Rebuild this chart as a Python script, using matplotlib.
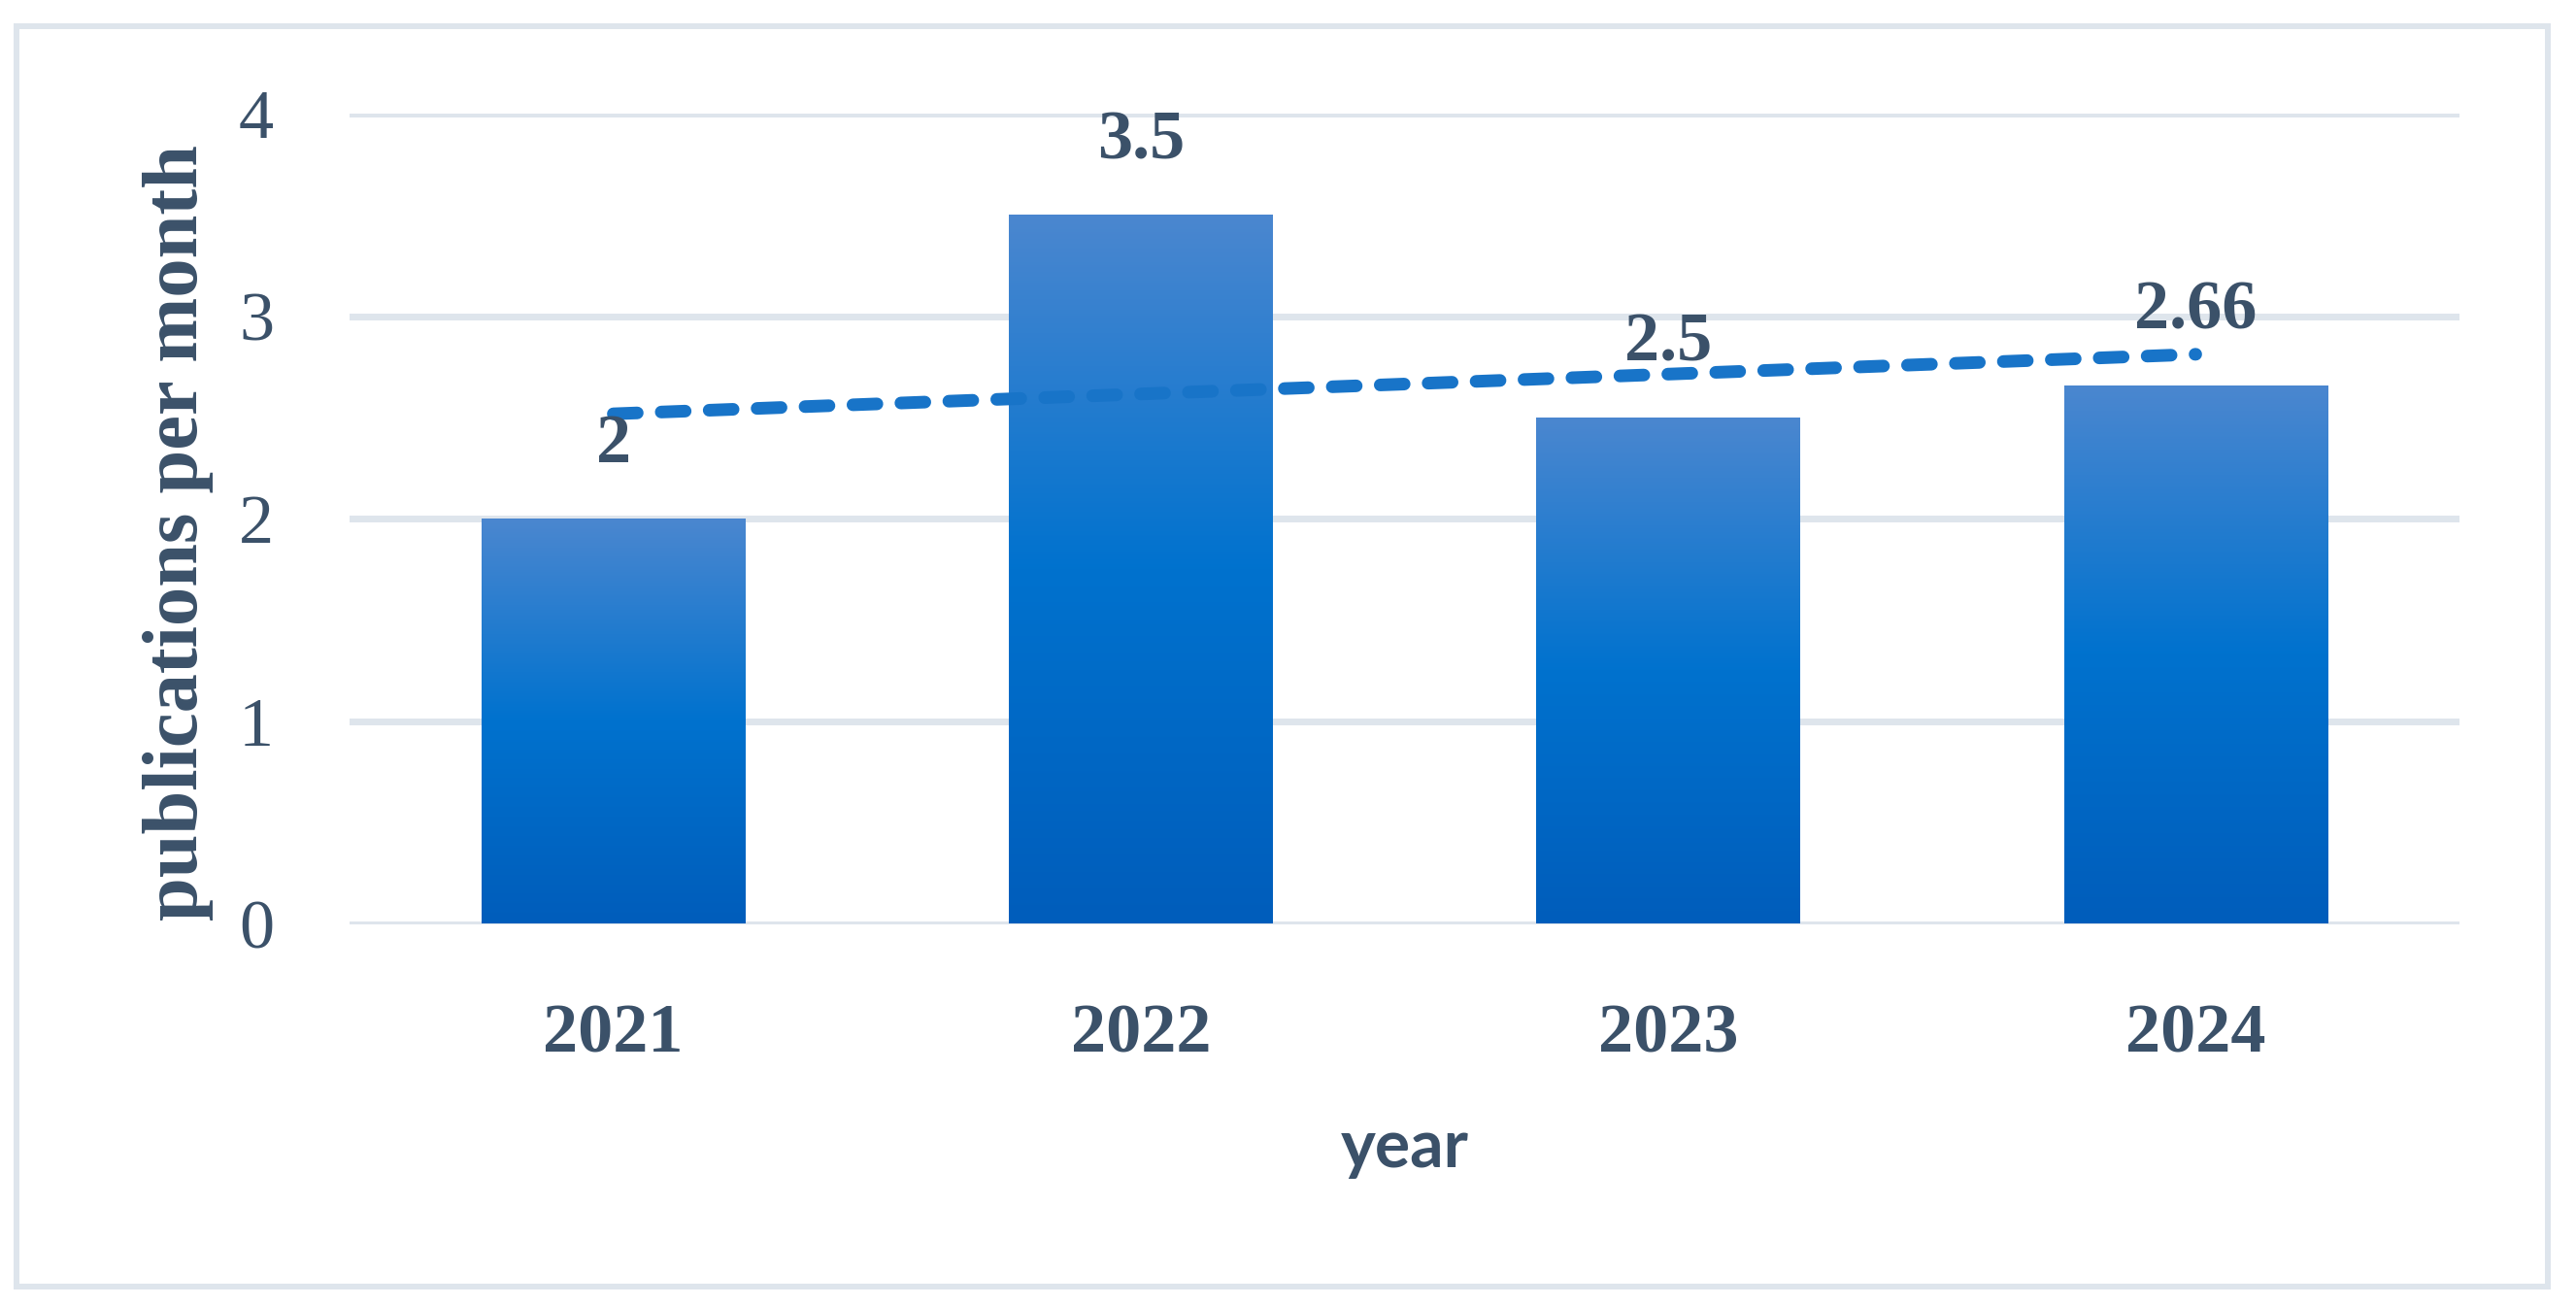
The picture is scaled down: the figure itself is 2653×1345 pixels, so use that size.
import numpy as np
import matplotlib
matplotlib.use("Agg")
import matplotlib.pyplot as plt
from matplotlib.colors import LinearSegmentedColormap
from matplotlib.patches import Rectangle

# ---- data ----
years = ["2021", "2022", "2023", "2024"]
values = [2, 3.5, 2.5, 2.66]
value_labels = ["2", "3.5", "2.5", "2.66"]
y_ticks = [0, 1, 2, 3, 4]

TEXT = "#3B5169"
GRID = "#DEE5EC"
SERIF = ["Liberation Serif", "DejaVu Serif"]
SANS = ["Lato", "Open Sans", "DejaVu Sans"]

W, H = 2653, 1345
DPI = 100
fig = plt.figure(figsize=(W / DPI, H / DPI), dpi=DPI)
fig.patch.set_facecolor("white")

# axes placement (pixels)
ax_left, ax_right = 360, 2533
ax_top, ax_bottom = 117, 951.5
ax = fig.add_axes([ax_left / W, (H - ax_bottom) / H,
                   (ax_right - ax_left) / W, (ax_bottom - ax_top) / H])

x = np.arange(len(years))
bars = ax.bar(x, values, width=0.5, color="none", edgecolor="none", zorder=2)

cmap = LinearSegmentedColormap.from_list(
    "bargrad", [(0.0, "#005DBB"), (0.5, "#0072CE"), (1.0, "#4B87D0")])
grad = np.linspace(0, 1, 256).reshape(-1, 1)
for b in bars:
    x0, y0, w, h = b.get_x(), b.get_y(), b.get_width(), b.get_height()
    im = ax.imshow(grad, extent=[x0, x0 + w, y0, y0 + h], origin="lower",
                   aspect="auto", cmap=cmap, interpolation="bicubic", zorder=2)
    im.set_clip_path(b)

# linear trendline computed from the data
coef = np.polyfit(x, values, 1)
trend = np.polyval(coef, x)
lw_px = 13
ax.plot(x, trend, color="#1874C8", linewidth=lw_px * 72 / DPI,
        linestyle=(0, (1.9, 1.9)), dash_capstyle="round", zorder=3)

# data labels
for xi, v, lab in zip(x, values, value_labels):
    ax.annotate(lab, (xi, v), xytext=(0, 58 * 72 / DPI), textcoords="offset points",
                ha="center", va="baseline", fontsize=52, fontweight="bold",
                color=TEXT, family=SERIF, zorder=4)

ax.set_xlim(-0.5, len(years) - 0.5)
ax.set_ylim(0, 4)
ax.set_yticks(y_ticks)
ax.set_yticklabels([str(t) for t in y_ticks])
ax.set_xticks(x)
ax.set_xticklabels(years)

ax.yaxis.grid(True, color=GRID, linewidth=7 * 72 / DPI, zorder=0)
ax.set_axisbelow(True)
for s in ax.spines.values():
    s.set_visible(False)

ax.tick_params(axis="both", length=0)
ax.tick_params(axis="y", pad=56)
ax.tick_params(axis="x", pad=59)
for t in ax.get_yticklabels():
    t.set_fontsize(52)
    t.set_family(SERIF)
    t.set_color(TEXT)
for t in ax.get_xticklabels():
    t.set_fontsize(52)
    t.set_family(SERIF)
    t.set_fontweight("bold")
    t.set_color(TEXT)

# axis titles
ax.set_ylabel("publications per month", fontsize=58, fontweight="bold",
              family=SERIF, color=TEXT)
ax.yaxis.set_label_coords((220 - ax_left) / (ax_right - ax_left),
                          (ax_bottom - 548) / (ax_bottom - ax_top))
ax.set_xlabel("year", fontsize=49, fontweight="bold", family=SANS, color=TEXT)
ax.xaxis.label.set_va("baseline")
ax.xaxis.set_label_coords(0.5, (ax_bottom - 1202) / (ax_bottom - ax_top))

# outer chart border
border = Rectangle((16.5 / W, (H - 1325) / H), (2624 - 16.5) / W, (1325 - 27) / H,
                   transform=fig.transFigure, fill=False, edgecolor=GRID,
                   linewidth=6 * 72 / DPI, zorder=0)
fig.patches.append(border)

fig.savefig("out.png", dpi=DPI, facecolor="white")
